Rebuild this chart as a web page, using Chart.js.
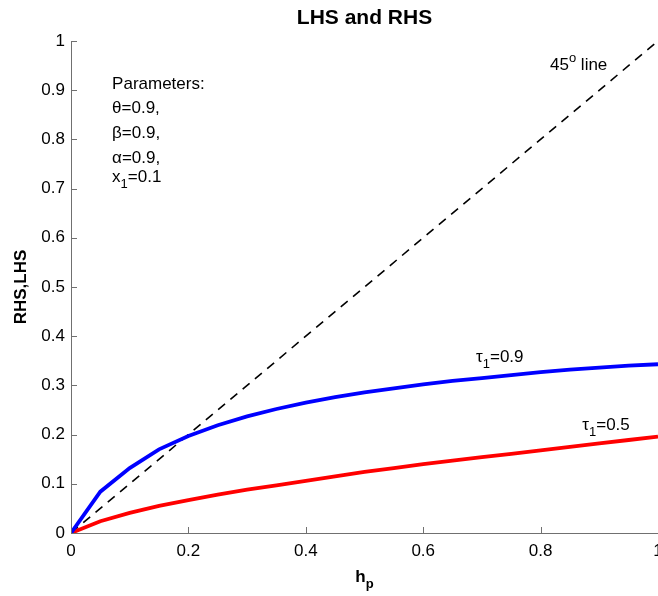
<!DOCTYPE html>
<html>
<head>
<meta charset="utf-8">
<script src="https://cdn.jsdelivr.net/npm/chart.js@4.4.0/dist/chart.umd.min.js"></script>
<style>
  html, body { margin: 0; padding: 0; background: #fff; }
  #chart { display: block; }
</style>
</head>
<body>
<canvas id="chart" width="658" height="596"></canvas>
<script>
// values
const hp = [0, 0.05, 0.1, 0.15, 0.2, 0.25, 0.3, 0.35, 0.4, 0.45, 0.5,
            0.55, 0.6, 0.65, 0.7, 0.75, 0.8, 0.85, 0.9, 0.95, 1];
const rhsTau09 = [0, 0.084, 0.132, 0.170, 0.197, 0.219, 0.237, 0.252, 0.265, 0.276, 0.286,
                  0.294, 0.302, 0.309, 0.315, 0.321, 0.327, 0.332, 0.336, 0.340, 0.343];
const rhsTau05 = [0, 0.024, 0.041, 0.055, 0.067, 0.078, 0.088, 0.097, 0.106, 0.115, 0.124,
                  0.132, 0.140, 0.147, 0.154, 0.161, 0.168, 0.175, 0.182, 0.189, 0.196];
const lineX = [0, 1];
const lineY = [0, 1];
const xTickValues = [0, 0.2, 0.4, 0.6, 0.8, 1];
const yTickValues = [0, 0.1, 0.2, 0.3, 0.4, 0.5, 0.6, 0.7, 0.8, 0.9, 1];

const FONT = 'Liberation Sans, Arial, Helvetica, sans-serif';

const toPoints = (xs, ys) => xs.map((x, i) => ({ x: x, y: ys[i] }));

// draw a run of text pieces; pieces can be sub/superscripts
function drawRich(ctx, x, y, pieces, size, bold) {
  let cx = x;
  pieces.forEach(p => {
    const s = p.sub || p.sup ? Math.round(size * 0.75) : size;
    ctx.font = (bold ? 'bold ' : '') + s + 'px ' + FONT;
    const dy = p.sub ? size * 0.42 : (p.sup ? -size * 0.42 : 0);
    ctx.fillText(p.t, cx, y + dy);
    cx += ctx.measureText(p.t).width;
  });
  return cx - x;
}

function richWidth(ctx, pieces, size, bold) {
  let w = 0;
  pieces.forEach(p => {
    const s = p.sub || p.sup ? Math.round(size * 0.75) : size;
    ctx.font = (bold ? 'bold ' : '') + s + 'px ' + FONT;
    w += ctx.measureText(p.t).width;
  });
  return w;
}

const decorations = {
  id: 'decorations',
  afterDraw(chart) {
    const { ctx, chartArea, scales } = chart;
    const xs = scales.x, ys = scales.y;
    ctx.save();
    ctx.fillStyle = '#000';
    ctx.textBaseline = 'middle';
    ctx.textAlign = 'left';

    // inward ticks, matlab style
    ctx.strokeStyle = '#707070';
    ctx.lineWidth = 1;
    ctx.beginPath();
    xTickValues.forEach(v => {
      const px = Math.round(xs.getPixelForValue(v)) + 0.5;
      ctx.moveTo(px, chartArea.bottom);
      ctx.lineTo(px, chartArea.bottom - 6);
    });
    yTickValues.forEach(v => {
      const py = Math.round(ys.getPixelForValue(v)) + 0.5;
      ctx.moveTo(chartArea.left, py);
      ctx.lineTo(chartArea.left + 6, py);
    });
    ctx.stroke();

    // title
    ctx.textAlign = 'center';
    ctx.font = 'bold 21px ' + FONT;
    ctx.fillText('LHS and RHS', (chartArea.left + chartArea.right) / 2, 18);

    // x axis title h_p
    ctx.textAlign = 'left';
    const hpPieces = [{ t: 'h' }, { t: 'p', sub: true }];
    const hw = richWidth(ctx, hpPieces, 17, true);
    drawRich(ctx, (chartArea.left + chartArea.right) / 2 - hw / 2, 577, hpPieces, 17, true);

    // y axis title
    ctx.save();
    ctx.translate(21, (chartArea.top + chartArea.bottom) / 2);
    ctx.rotate(-Math.PI / 2);
    ctx.textAlign = 'center';
    ctx.font = 'bold 17px ' + FONT;
    ctx.fillText('RHS,LHS', 0, 0);
    ctx.restore();

    // parameter block
    ctx.textAlign = 'left';
    const px0 = xs.getPixelForValue(0.07);
    drawRich(ctx, px0, ys.getPixelForValue(0.911), [{ t: 'Parameters:' }], 17);
    drawRich(ctx, px0, ys.getPixelForValue(0.864), [{ t: 'θ=0.9,' }], 17);
    drawRich(ctx, px0, ys.getPixelForValue(0.813), [{ t: 'β=0.9,' }], 17);
    drawRich(ctx, px0, ys.getPixelForValue(0.762), [{ t: 'α=0.9,' }], 17);
    drawRich(ctx, px0, ys.getPixelForValue(0.722),
      [{ t: 'x' }, { t: '1', sub: true }, { t: '=0.1' }], 17);

    // curve labels
    drawRich(ctx, xs.getPixelForValue(0.816), ys.getPixelForValue(0.951),
      [{ t: '45' }, { t: 'o', sup: true }, { t: ' line' }], 17);
    drawRich(ctx, xs.getPixelForValue(0.69), ys.getPixelForValue(0.358),
      [{ t: 'τ' }, { t: '1', sub: true }, { t: '=0.9' }], 17);
    drawRich(ctx, xs.getPixelForValue(0.871), ys.getPixelForValue(0.219),
      [{ t: 'τ' }, { t: '1', sub: true }, { t: '=0.5' }], 17);

    ctx.restore();
  }
};

new Chart(document.getElementById('chart'), {
  type: 'line',
  data: {
    datasets: [
      {
        label: 'tau1=0.9',
        data: toPoints(hp, rhsTau09),
        borderColor: '#0000ff',
        borderWidth: 3.8,
        pointRadius: 0,
        tension: 0,
      },
      {
        label: 'tau1=0.5',
        data: toPoints(hp, rhsTau05),
        borderColor: '#ff0000',
        borderWidth: 3.8,
        pointRadius: 0,
        tension: 0,
      },
      {
        label: '45 degree line',
        data: toPoints(lineX, lineY),
        borderColor: '#000',
        borderWidth: 1.6,
        borderDash: [9, 7],
        pointRadius: 0,
        tension: 0,
      },
    ],
  },
  options: {
    responsive: false,
    animation: false,
    events: [],
    layout: { padding: { top: 41, right: 0, bottom: 0, left: 0 } },
    plugins: {
      legend: { display: false },
      title: { display: false },
      tooltip: { enabled: false },
    },
    scales: {
      x: {
        type: 'linear',
        min: 0,
        max: 1,
        afterBuildTicks: s => { s.ticks = xTickValues.map(v => ({ value: v })); },
        afterFit: s => { s.height = 63; s.paddingRight = 0; s.paddingLeft = 0; },
        grid: { display: true, drawOnChartArea: false, drawTicks: false },
        border: { display: true, color: '#707070', width: 1 },
        ticks: {
          color: '#000',
          padding: 8,
          maxRotation: 0,
          font: { family: FONT, size: 17 },
          callback: v => String(v),
        },
      },
      y: {
        type: 'linear',
        min: 0,
        max: 1,
        afterBuildTicks: s => { s.ticks = yTickValues.map(v => ({ value: v })); },
        afterFit: s => { s.width = 71; },
        grid: { display: true, drawOnChartArea: false, drawTicks: false },
        border: { display: true, color: '#707070', width: 1 },
        ticks: {
          color: '#000',
          padding: 6,
          font: { family: FONT, size: 17 },
          callback: v => String(v),
        },
      },
    },
  },
  plugins: [decorations],
});
</script>
</body>
</html>
